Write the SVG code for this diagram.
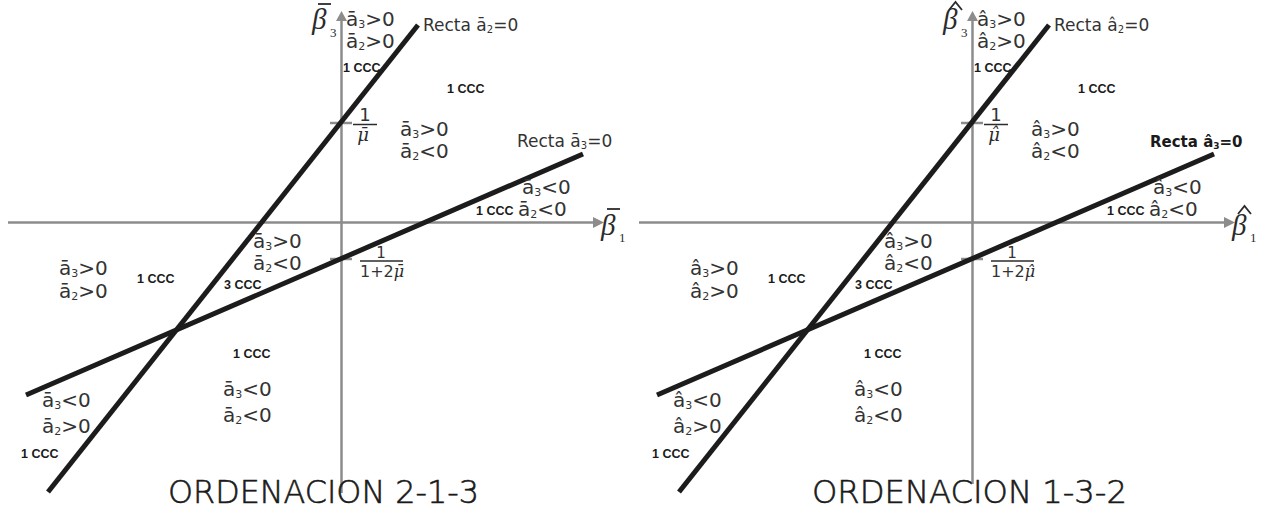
<svg xmlns="http://www.w3.org/2000/svg" width="1268" height="513" viewBox="0 0 1268 513">
<style>
.t{font-family:"DejaVu Sans","Liberation Sans",sans-serif;fill:#333}
.c{font-size:20px}
.r{font-size:17px}
.rb{font-size:15px;font-weight:bold;fill:#1a1a1a}
.ccc{font-family:"Liberation Sans",Arial,sans-serif;font-weight:bold;font-size:12.5px;fill:#1a1a1a}
.m{font-family:"DejaVu Serif","Liberation Serif",serif;font-style:italic;fill:#2b2b2b}
.b{font-family:"Liberation Serif","Times New Roman",serif;font-style:italic;font-size:29px;fill:#2b2b2b}
.ms{font-family:"Liberation Serif","Times New Roman",serif;font-size:13px;fill:#2b2b2b}
.title{font-size:32px;font-weight:300;fill:#1a1a1a;stroke:#1a1a1a;stroke-width:0.6}
.axis{stroke:#8c8c8c;stroke-width:2.5;fill:none}
.ah{fill:#8c8c8c}
.ln{stroke:#1c1c1c;stroke-width:5;fill:none}
.fb{stroke:#2b2b2b;stroke-width:1.5}
.acc{stroke:#2b2b2b;stroke-width:1.8;fill:none}
</style>

<g id="panel-left">
  <g id="axes-left">
    <line class="axis" x1="8" y1="222.5" x2="595" y2="222.5"/>
    <polygon class="ah" points="604,222.5 593,217 593,228"/>
    <line class="axis" x1="341.5" y1="20" x2="341.5" y2="493"/>
    <polygon class="ah" points="341.5,11 336,21 347,21"/>
    <line class="axis" x1="330" y1="123" x2="352" y2="123"/>
    <line class="axis" x1="330" y1="259" x2="352" y2="259"/>
  </g>
  <g id="connectors-left">
    <line class="ln" x1="418" y1="25" x2="48" y2="492"/>
    <line class="ln" x1="583" y1="154" x2="26" y2="395"/>
  </g>
  <g id="labels-left">
    <text class="b" x="312" y="29">β</text>
    <line class="acc" x1="318" y1="4" x2="331" y2="4"/>
    <text class="ms" x="330" y="37">3</text>
    <text class="b" x="601" y="235">β</text>
    <line class="acc" x1="607" y1="209" x2="620" y2="209"/>
    <text class="ms" x="619" y="242">1</text>

    <text class="t c" x="346" y="26">ā<tspan font-size="11" dy="2">3</tspan><tspan dy="-2">&gt;0</tspan></text>
    <text class="t c" x="346" y="48">ā<tspan font-size="11" dy="2">2</tspan><tspan dy="-2">&gt;0</tspan></text>
    <text class="t r" x="423" y="31">Recta ā<tspan font-size="10" dy="2">2</tspan><tspan dy="-2">=0</tspan></text>
    <text class="ccc" x="343" y="72">1 CCC</text>
    <text class="ccc" x="447" y="93">1 CCC</text>

    <text class="t" x="365" y="121" font-size="18" text-anchor="middle">1</text>
    <line class="fb" x1="353" y1="124.5" x2="377" y2="124.5"/>
    <text class="m" x="363" y="141" font-size="18" text-anchor="middle">μ̄</text>

    <text class="t c" x="400" y="136">ā<tspan font-size="11" dy="2">3</tspan><tspan dy="-2">&gt;0</tspan></text>
    <text class="t c" x="400" y="158">ā<tspan font-size="11" dy="2">2</tspan><tspan dy="-2">&lt;0</tspan></text>
    <text class="t r" x="517" y="147">Recta ā<tspan font-size="10" dy="2">3</tspan><tspan dy="-2">=0</tspan></text>

    <text class="t c" x="522" y="194">ā<tspan font-size="11" dy="2">3</tspan><tspan dy="-2">&lt;0</tspan></text>
    <text class="t c" x="518" y="216">ā<tspan font-size="11" dy="2">2</tspan><tspan dy="-2">&lt;0</tspan></text>
    <text class="ccc" x="476" y="215">1 CCC</text>

    <text class="t c" x="253" y="248">ā<tspan font-size="11" dy="2">3</tspan><tspan dy="-2">&gt;0</tspan></text>
    <text class="t c" x="253" y="270">ā<tspan font-size="11" dy="2">2</tspan><tspan dy="-2">&lt;0</tspan></text>
    <text class="ccc" x="224" y="289">3 CCC</text>

    <text class="t" x="381" y="258" font-size="15" text-anchor="middle">1</text>
    <line class="fb" x1="360" y1="261" x2="403" y2="261"/>
    <text class="t" x="360" y="277" font-size="16">1+2<tspan class="m" font-size="16">μ̄</tspan></text>

    <text class="t c" x="59" y="275">ā<tspan font-size="11" dy="2">3</tspan><tspan dy="-2">&gt;0</tspan></text>
    <text class="t c" x="59" y="298">ā<tspan font-size="11" dy="2">2</tspan><tspan dy="-2">&gt;0</tspan></text>
    <text class="ccc" x="137" y="283">1 CCC</text>

    <text class="ccc" x="233" y="358">1 CCC</text>
    <text class="t c" x="223" y="396">ā<tspan font-size="11" dy="2">3</tspan><tspan dy="-2">&lt;0</tspan></text>
    <text class="t c" x="223" y="422">ā<tspan font-size="11" dy="2">2</tspan><tspan dy="-2">&lt;0</tspan></text>

    <text class="t c" x="42" y="407">ā<tspan font-size="11" dy="2">3</tspan><tspan dy="-2">&lt;0</tspan></text>
    <text class="t c" x="42" y="433">ā<tspan font-size="11" dy="2">2</tspan><tspan dy="-2">&gt;0</tspan></text>
    <text class="ccc" x="21" y="458">1 CCC</text>

    <text class="t title" x="168" y="503" textLength="311" lengthAdjust="spacingAndGlyphs">ORDENACION 2-1-3</text>
  </g>
</g>

<g id="panel-right">
  <g transform="translate(631,0)">
    <g id="axes-right">
      <line class="axis" x1="8" y1="222.5" x2="595" y2="222.5"/>
      <polygon class="ah" points="604,222.5 593,217 593,228"/>
      <line class="axis" x1="341.5" y1="20" x2="341.5" y2="484"/>
      <polygon class="ah" points="341.5,11 336,21 347,21"/>
      <line class="axis" x1="330" y1="123" x2="352" y2="123"/>
      <line class="axis" x1="330" y1="259" x2="352" y2="259"/>
    </g>
    <g id="connectors-right">
      <line class="ln" x1="418" y1="25" x2="48" y2="492"/>
      <line class="ln" x1="583" y1="154" x2="26" y2="395"/>
    </g>
    <g id="labels-right">
      <text class="b" x="312" y="29">β</text>
      <polyline class="acc" points="318,10 324.5,2 331,10"/>
      <text class="ms" x="330" y="37">3</text>
      <text class="b" x="601" y="235">β</text>
      <polyline class="acc" points="607,214 613.5,206 620,214"/>
      <text class="ms" x="619" y="242">1</text>

      <text class="t c" x="346" y="26">â<tspan font-size="11" dy="2">3</tspan><tspan dy="-2">&gt;0</tspan></text>
      <text class="t c" x="346" y="48">â<tspan font-size="11" dy="2">2</tspan><tspan dy="-2">&gt;0</tspan></text>
      <text class="t r" x="423" y="31">Recta â<tspan font-size="10" dy="2">2</tspan><tspan dy="-2">=0</tspan></text>
      <text class="ccc" x="343" y="72">1 CCC</text>
      <text class="ccc" x="447" y="93">1 CCC</text>

      <text class="t" x="365" y="121" font-size="18" text-anchor="middle">1</text>
      <line class="fb" x1="353" y1="124.5" x2="377" y2="124.5"/>
      <text class="m" x="363" y="141" font-size="18" text-anchor="middle">μ̂</text>

      <text class="t c" x="400" y="136">â<tspan font-size="11" dy="2">3</tspan><tspan dy="-2">&gt;0</tspan></text>
      <text class="t c" x="400" y="158">â<tspan font-size="11" dy="2">2</tspan><tspan dy="-2">&lt;0</tspan></text>
      <text class="t rb" x="519" y="147">Recta â<tspan font-size="9" dy="2">3</tspan><tspan dy="-2">=0</tspan></text>

      <text class="t c" x="522" y="194">â<tspan font-size="11" dy="2">3</tspan><tspan dy="-2">&lt;0</tspan></text>
      <text class="t c" x="518" y="216">â<tspan font-size="11" dy="2">2</tspan><tspan dy="-2">&lt;0</tspan></text>
      <text class="ccc" x="476" y="215">1 CCC</text>

      <text class="t c" x="253" y="248">â<tspan font-size="11" dy="2">3</tspan><tspan dy="-2">&gt;0</tspan></text>
      <text class="t c" x="253" y="270">â<tspan font-size="11" dy="2">2</tspan><tspan dy="-2">&lt;0</tspan></text>
      <text class="ccc" x="224" y="289">3 CCC</text>

      <text class="t" x="381" y="258" font-size="15" text-anchor="middle">1</text>
      <line class="fb" x1="360" y1="261" x2="403" y2="261"/>
      <text class="t" x="360" y="277" font-size="16">1+2<tspan class="m" font-size="16">μ̂</tspan></text>

      <text class="t c" x="59" y="275">â<tspan font-size="11" dy="2">3</tspan><tspan dy="-2">&gt;0</tspan></text>
      <text class="t c" x="59" y="298">â<tspan font-size="11" dy="2">2</tspan><tspan dy="-2">&gt;0</tspan></text>
      <text class="ccc" x="137" y="283">1 CCC</text>

      <text class="ccc" x="233" y="358">1 CCC</text>
      <text class="t c" x="223" y="396">â<tspan font-size="11" dy="2">3</tspan><tspan dy="-2">&lt;0</tspan></text>
      <text class="t c" x="223" y="422">â<tspan font-size="11" dy="2">2</tspan><tspan dy="-2">&lt;0</tspan></text>

      <text class="t c" x="42" y="407">â<tspan font-size="11" dy="2">3</tspan><tspan dy="-2">&lt;0</tspan></text>
      <text class="t c" x="42" y="433">â<tspan font-size="11" dy="2">2</tspan><tspan dy="-2">&gt;0</tspan></text>
      <text class="ccc" x="21" y="458">1 CCC</text>
    </g>
  </g>
  <text class="t title" x="812" y="503" textLength="315" lengthAdjust="spacingAndGlyphs">ORDENACION 1-3-2</text>
</g>
</svg>
